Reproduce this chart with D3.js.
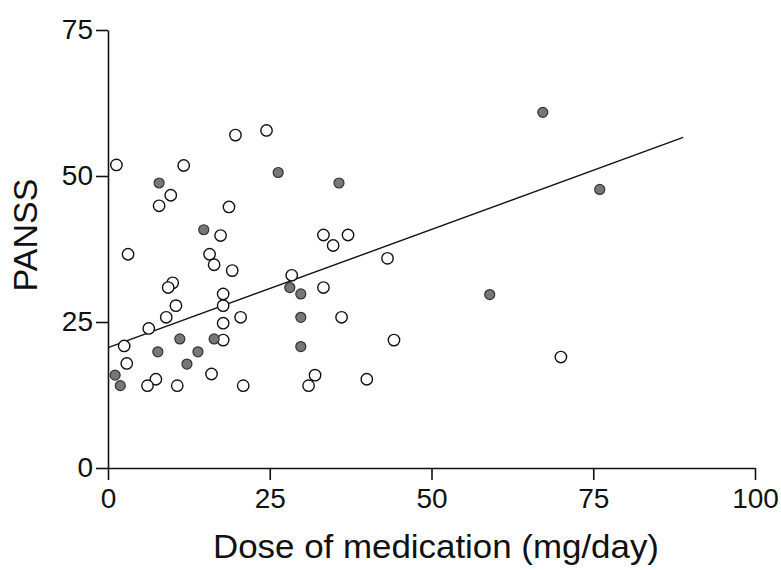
<!doctype html>
<html lang="en">
<head>
<meta charset="utf-8">
<title>PANSS vs dose</title>
<script src="https://cdn.jsdelivr.net/npm/d3@7"></script>
<style>
  body { margin: 0; background: #fff; }
  svg text { font-family: "Liberation Sans", Arial, sans-serif; fill: #111; }
</style>
</head>
<body>
<svg id="chart" width="781" height="570"></svg>
<script>
// open circles
var openDose  = [1.3, 19.7, 24.5, 11.7, 9.7, 7.9, 18.7, 17.4, 3.1, 15.7, 16.4, 19.2, 10.0, 9.3, 17.8, 17.8,
                 10.5, 9.0, 20.5, 17.8, 6.3, 17.8, 2.5, 2.9, 7.4, 16.0, 6.1, 10.7, 20.9,
                 33.3, 37.1, 34.8, 43.2, 28.4, 33.3, 36.1, 44.2, 32.0, 40.0, 31.0, 70.0];
var openPanss = [51.9, 57.0, 57.8, 51.8, 46.7, 44.9, 44.7, 39.8, 36.6, 36.6, 34.8, 33.8, 31.7, 30.9, 29.8, 27.8,
                 27.8, 25.8, 25.8, 24.8, 23.9, 21.9, 20.9, 17.9, 15.2, 16.1, 14.1, 14.1, 14.1,
                 39.9, 39.9, 38.1, 35.9, 33.0, 30.9, 25.8, 21.9, 15.9, 15.2, 14.1, 19.0];
// filled circles
var filledDose  = [7.9, 26.3, 14.8, 11.1, 16.4, 7.7, 13.9, 12.2, 1.1, 1.9, 35.7, 28.1, 29.8, 29.8, 29.8, 67.2, 76.0, 59.0];
var filledPanss = [48.8, 50.6, 40.8, 22.1, 22.1, 19.9, 19.9, 17.8, 15.9, 14.1, 48.8, 30.9, 29.8, 25.8, 20.8, 60.9, 47.7, 29.7];
// regression line ends
var fitDose  = [0, 88.9];
var fitPanss = [20.6, 56.6];

var xTicks = [0, 25, 50, 75, 100];
var yTicks = [0, 25, 50, 75];

var svg = d3.select("#chart");
var x = d3.scaleLinear().domain([0, 100]).range([108, 755]);
var y = d3.scaleLinear().domain([0, 75]).range([468, 30]);

// axes
var xAxis = svg.append("g").attr("transform", "translate(0,468)")
  .call(d3.axisBottom(x).tickValues(xTicks).tickSize(12).tickSizeOuter(0).tickPadding(8));
var yAxis = svg.append("g").attr("transform", "translate(108,0)")
  .call(d3.axisLeft(y).tickValues(yTicks).tickSize(12).tickSizeOuter(0).tickPadding(3));

[xAxis, yAxis].forEach(function (a) {
  a.selectAll("path, line").attr("stroke", "#111").attr("stroke-width", 1.6);
  a.selectAll("text").attr("font-size", 28).attr("fill", "#111")
    .style("font-family", '"Liberation Sans", Arial, sans-serif');
});

// regression line
svg.append("line")
  .attr("x1", x(fitDose[0])).attr("y1", y(fitPanss[0]))
  .attr("x2", x(fitDose[1])).attr("y2", y(fitPanss[1]))
  .attr("stroke", "#111").attr("stroke-width", 1.4);

// points
svg.append("g").selectAll("circle").data(d3.zip(openDose, openPanss)).enter().append("circle")
  .attr("cx", d => x(d[0])).attr("cy", d => y(d[1])).attr("r", 5.7)
  .attr("fill", "#fff").attr("stroke", "#111").attr("stroke-width", 1.4);

svg.append("g").selectAll("circle").data(d3.zip(filledDose, filledPanss)).enter().append("circle")
  .attr("cx", d => x(d[0])).attr("cy", d => y(d[1])).attr("r", 5)
  .attr("fill", "#777").attr("stroke", "#333").attr("stroke-width", 1.2);

// axis titles
svg.append("text").attr("x", 436).attr("y", 558).attr("text-anchor", "middle")
  .attr("font-size", 34).attr("textLength", 446).attr("lengthAdjust", "spacingAndGlyphs")
  .text("Dose of medication (mg/day)");
svg.append("text").attr("transform", "translate(37,235) rotate(-90)").attr("text-anchor", "middle")
  .attr("font-size", 34).text("PANSS");
</script>
</body>
</html>
